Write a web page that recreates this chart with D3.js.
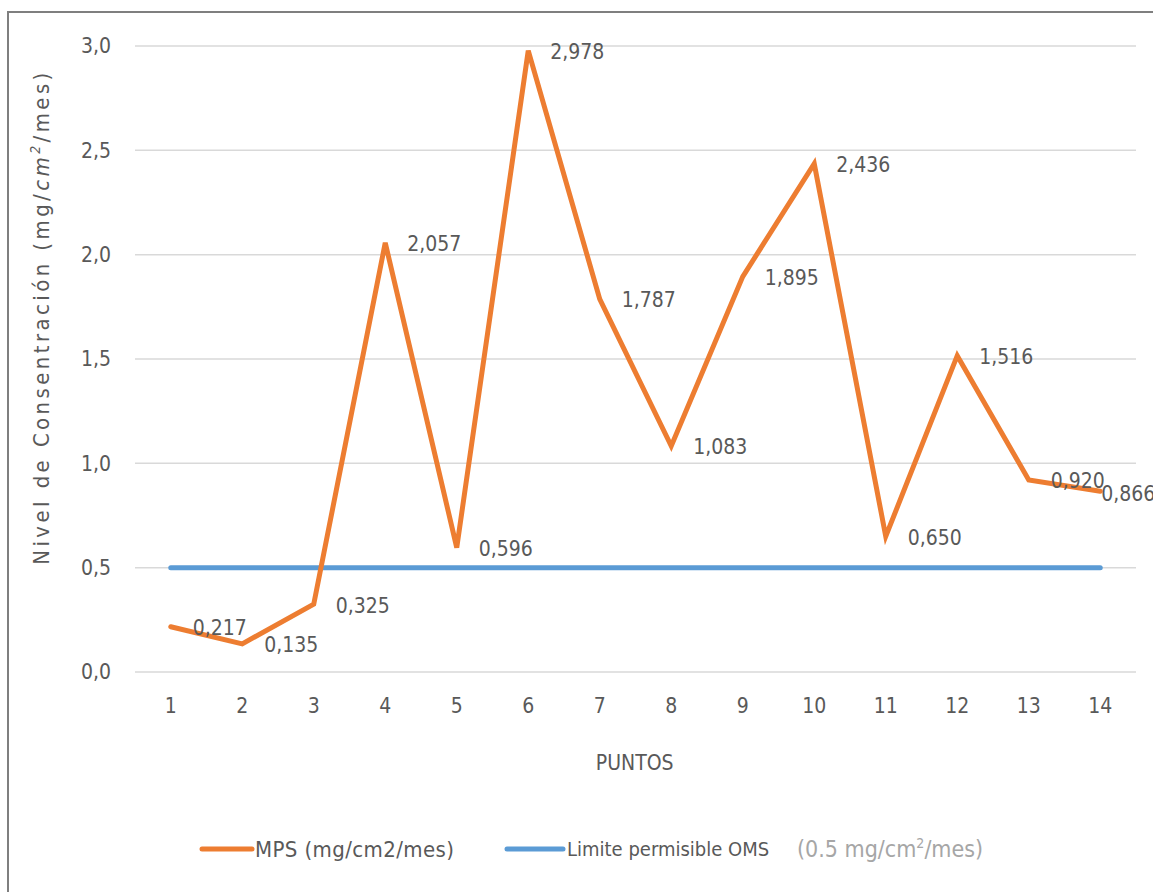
<!DOCTYPE html>
<html>
<head>
<meta charset="utf-8">
<script src="https://cdn.jsdelivr.net/npm/d3@7"></script>
<style>
  html, body { margin: 0; padding: 0; background: #fff; }
  svg { display: block; }
  text { font-family: "Liberation Sans Narrow", "DejaVu Sans Condensed", "Liberation Sans", sans-serif; fill: #595959; }
</style>
</head>
<body>
<svg id="chart" width="1153" height="892"></svg>
<script>
// Monitoring points and measured sedimentable particulate matter (MPS)
const puntos = ["1","2","3","4","5","6","7","8","9","10","11","12","13","14"];
const mps = [0.217, 0.135, 0.325, 2.057, 0.596, 2.978, 1.787, 1.083, 1.895, 2.436, 0.650, 1.516, 0.920, 0.866];
// WHO permissible limit, constant across all points
const limiteOMS = [0.5, 0.5, 0.5, 0.5, 0.5, 0.5, 0.5, 0.5, 0.5, 0.5, 0.5, 0.5, 0.5, 0.5];
const yTicks = [0, 0.5, 1.0, 1.5, 2.0, 2.5, 3.0];

const svg = d3.select("#chart");
const W = 1153, H = 892;

// outer frame (extends past the right and bottom edges)
svg.append("rect")
  .attr("x", 8).attr("y", 12).attr("width", W + 20).attr("height", H + 20)
  .attr("fill", "#fff").attr("stroke", "#7f7f7f").attr("stroke-width", 2);

const plot = { left: 135, right: 1136, top: 46, bottom: 672 };

const x = d3.scaleBand().domain(puntos).range([plot.left, plot.right]).padding(0);
const xc = d => x(d) + x.bandwidth() / 2;
const y = d3.scaleLinear().domain([0, 3]).range([plot.bottom, plot.top]);

const fmt = v => d3.format(".1f")(v).replace(".", ",");
const fmt3 = v => d3.format(".3f")(v).replace(".", ",");

// horizontal gridlines
svg.append("g")
  .selectAll("line").data(yTicks).join("line")
  .attr("x1", plot.left).attr("x2", plot.right)
  .attr("y1", d => y(d)).attr("y2", d => y(d))
  .attr("stroke", "#d9d9d9").attr("stroke-width", 1.5);

// y axis labels
const yAxis = svg.append("g")
  .attr("transform", `translate(${plot.left - 24},0)`)
  .call(d3.axisLeft(y).tickValues(yTicks).tickFormat(fmt).tickSize(0).tickPadding(0));
yAxis.select(".domain").remove();
yAxis.selectAll("text").attr("font-size", 21).attr("fill", "#595959");

// x axis labels
const xAxis = svg.append("g")
  .attr("transform", `translate(0,${plot.bottom + 26})`)
  .call(d3.axisBottom(x).tickSize(0).tickPadding(0));
xAxis.select(".domain").remove();
xAxis.selectAll("text").attr("font-size", 21).attr("fill", "#595959").attr("dy", "0.71em");
svg.selectAll(".tick text").attr("font-family", null);

// axis titles
svg.append("text")
  .attr("x", xc("7") + 35).attr("y", 770)
  .attr("text-anchor", "middle").attr("font-size", 21)
  .text("PUNTOS");

const yTitle = svg.append("text")
  .attr("transform", `translate(49,317) rotate(-90)`)
  .attr("text-anchor", "middle").attr("font-size", 22)
  .attr("letter-spacing", 3.4);
yTitle.append("tspan").text("Nivel de Consentración (mg/");
yTitle.append("tspan").attr("font-style", "italic").text("cm");
yTitle.append("tspan").attr("font-size", 14).attr("dy", -9).attr("font-style", "italic").text("2");
yTitle.append("tspan").attr("dy", 9).text("/mes)");

// WHO limit line
const line = d3.line().x((d, i) => xc(puntos[i])).y(d => y(d));
svg.append("path").datum(limiteOMS)
  .attr("d", line).attr("fill", "none")
  .attr("stroke", "#5b9bd5").attr("stroke-width", 5).attr("stroke-linecap", "round");

// MPS series
svg.append("path").datum(mps)
  .attr("d", line).attr("fill", "none")
  .attr("stroke", "#ed7d31").attr("stroke-width", 5).attr("stroke-linejoin", "miter")
  .attr("stroke-linecap", "round");

// data labels to the right of each point (last one sits at the frame edge)
svg.append("g").selectAll("text").data(mps).join("text")
  .attr("x", (d, i) => xc(puntos[i]) + (i === mps.length - 1 ? 1 : 22))
  .attr("y", (d, i) => y(d) + (i === mps.length - 1 ? 2 : 1))
  .attr("dy", "0.35em").attr("font-size", 21).attr("fill", "#404040")
  .text(fmt3);

// legend
const leg = svg.append("g");
leg.append("line").attr("x1", 202).attr("x2", 252).attr("y1", 849).attr("y2", 849)
  .attr("stroke", "#ed7d31").attr("stroke-width", 5).attr("stroke-linecap", "round");
leg.append("text").attr("x", 255).attr("y", 849).attr("dy", "0.35em").attr("font-size", 22)
  .attr("letter-spacing", 0.4)
  .text("MPS (mg/cm2/mes)");
leg.append("line").attr("x1", 507).attr("x2", 563).attr("y1", 849).attr("y2", 849)
  .attr("stroke", "#5b9bd5").attr("stroke-width", 5).attr("stroke-linecap", "round");
leg.append("text").attr("x", 567).attr("y", 849).attr("dy", "0.35em").attr("font-size", 20)
  .text("Limite permisible OMS");
const l2 = leg.append("text").attr("x", 797).attr("y", 849).attr("dy", "0.35em").attr("font-size", 23)
  .attr("fill", "#a6a6a6");
l2.append("tspan").attr("fill", "#a6a6a6").text("(0.5 mg/cm");
l2.append("tspan").attr("fill", "#a6a6a6").attr("font-size", 14).attr("dy", -9).text("2");
l2.append("tspan").attr("fill", "#a6a6a6").attr("dy", 9).text("/mes)");
</script>
</body>
</html>
